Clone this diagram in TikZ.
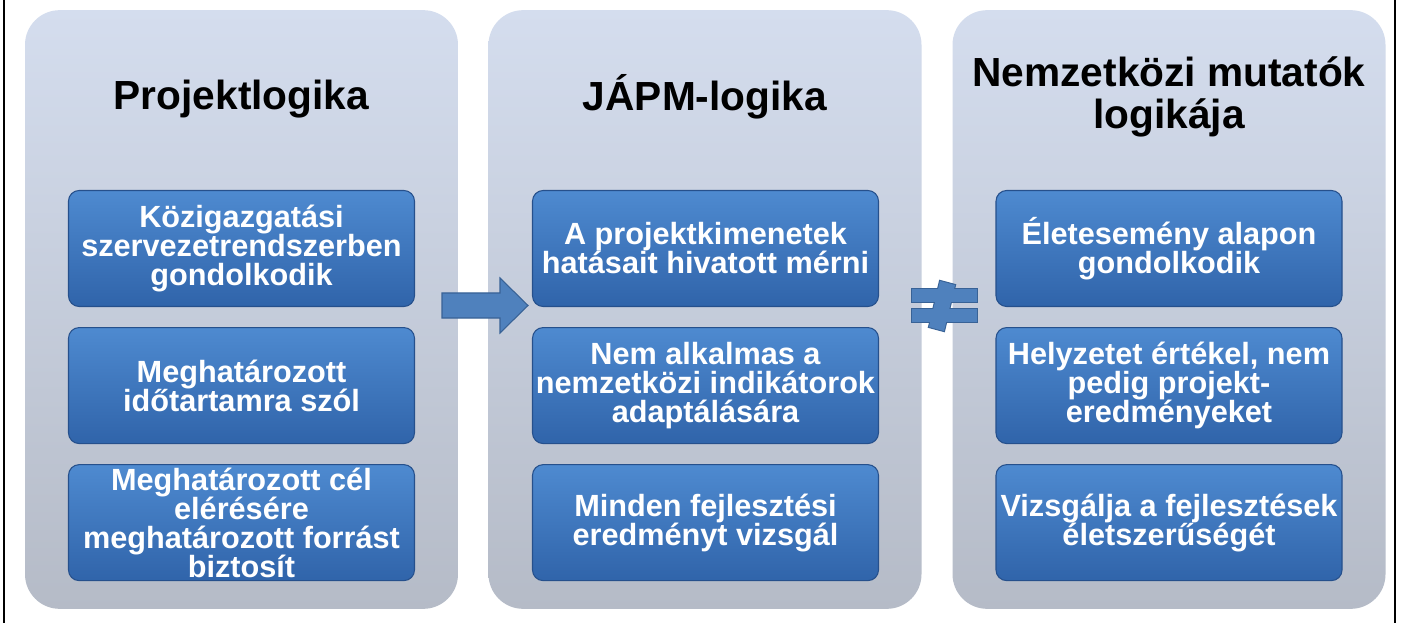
\documentclass[tikz,border=0pt]{standalone}
\usepackage{fontspec}
\setmainfont{Liberation Sans}
\usepackage{tikz}
\usetikzlibrary{calc}
\usetikzlibrary{positioning}

\definecolor{paneltop}{RGB}{212,221,238}
\definecolor{panelbot}{RGB}{181,187,199}
\definecolor{boxtop}{RGB}{78,138,208}
\definecolor{boxbot}{RGB}{48,100,170}
\definecolor{boxline}{RGB}{38,80,140}
\definecolor{signfill}{RGB}{79,129,189}
\definecolor{signline}{RGB}{56,98,150}

\tikzset{
	panel/.style={rounded corners=26pt, top color=paneltop, bottom color=panelbot,
		minimum width=324.75pt, minimum height=449pt, inner sep=0pt},
	itembox/.style={rounded corners=8pt, top color=boxtop, bottom color=boxbot,
		draw=boxline, line width=0.8pt, minimum width=259.5pt, minimum height=87pt,
		align=center, text=white, inner sep=0pt,
		font=\fontsize{23}{21.8}\selectfont\bfseries},
	ptitle/.style={font=\fontsize{30.5}{31}\selectfont\bfseries, align=center},
}

\begin{document}
\begin{tikzpicture}[x=0.75pt,y=-0.75pt]
	\fill[white] (0,0) rectangle (1401,623);
	\useasboundingbox (0,0) rectangle (1401,623);
	\draw[line width=1.9pt] (4,0) -- (4,623);
	\draw[line width=1.9pt] (1395,0) -- (1395,623);

	% the three columns
	\node[panel] (proj) at (241.5,309.5) {};
	\node[panel] (japm) at (705,309.5) {};
	\node[panel] (nemz) at (1169,309.5) {};

	\node[ptitle] (projtitle) at (241.5,99) {Projektlogika};
	\node[ptitle] (japmtitle) at (705,97) {JÁPM-logika};
	\node[ptitle] (nemztitle) at (1169,97) {Nemzetközi mutatók\\logikája};

	\node[itembox] (proja) at (241.5,248.5) {Közigazgatási\\szervezetrendszerben\\gondolkodik};
	\node[itembox, below=15pt of proja] (projb) {Meghatározott\\időtartamra szól};
	\node[itembox, below=15pt of projb] (projc) {Meghatározott cél\\elérésére\\meghatározott forrást\\biztosít};

	\node[itembox] (japma) at (705.5,248.5) {A projektkimenetek\\hatásait hivatott mérni};
	\node[itembox, below=15pt of japma] (japmb) {Nem alkalmas a\\nemzetközi indikátorok\\adaptálására};
	\node[itembox, below=15pt of japmb] (japmc) {Minden fejlesztési\\eredményt vizsgál};

	\node[itembox] (nemza) at (1169,248.5) {Életesemény alapon\\gondolkodik};
	\node[itembox, below=15pt of nemza] (nemzb) {Helyzetet értékel, nem\\pedig projekt-\\eredményeket};
	\node[itembox, below=15pt of nemzb] (nemzc) {Vizsgálja a fejlesztések\\életszerűségét};

	% block arrow and not-equal sign
	\filldraw[fill=signfill, draw=signline, line width=0.8pt] (442,293) -- (500,293) -- (500,278)
		-- (528,305.5) -- (500,333) -- (500,318) -- (442,318) -- cycle;
	\draw[signline, line width=1.6pt] (912,289) rectangle (977,302);
	\draw[signline, line width=1.6pt] (912,309) rectangle (977,322);
	\draw[signline, line width=1.6pt] (940,281) -- (955,285) -- (944,331) -- (929,327) -- cycle;
	\fill[signfill] (912,289) rectangle (977,302);
	\fill[signfill] (912,309) rectangle (977,322);
	\fill[signfill] (940,281) -- (955,285) -- (944,331) -- (929,327) -- cycle;
\end{tikzpicture}
\end{document}
